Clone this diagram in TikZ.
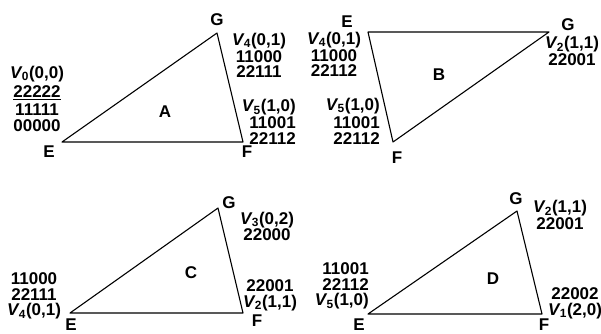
\documentclass[tikz,border=0pt]{standalone}
\usepackage{fontspec}
\setmainfont{Liberation Sans}
\usepackage{tikz}
\usetikzlibrary{positioning}
\newcommand{\Vs}[1]{\textit{V}\kern-0.6pt\textsubscript{#1}}
\tikzset{
  lbl/.style={anchor=base,inner sep=0pt,font=\fontsize{17}{15.5}\selectfont\bfseries},
  stack/.style={lbl,anchor=north,align=center},
  rstack/.style={lbl,anchor=north east,align=right},
  tri/.style={draw,line width=1.1pt,line join=round}
}
\begin{document}
\begin{tikzpicture}[x=1pt,y=-1pt]
 \useasboundingbox (0,0) rectangle (601,333);

 % triangle A
 \coordinate (aE) at (62,142);
 \coordinate (aF) at (243,142);
 \coordinate (aG) at (217,33);
 \draw[tri] (aE)--(aF)--(aG)--cycle;
 \node[lbl] (aGl) at (217,25) {G};
 \node[lbl] (aEl) at (49,157) {E};
 \node[lbl] (aFl) at (247,157) {F};
 \node[lbl] (aA)  at (165,117) {A};
 \node[stack] (aV0) at (37,65.8)
   {\Vs{0}(0,0)\\[4pt]\underline{22222}\\[2.5pt]11111\\00000};
 \node[stack] (aV4) at (259,32.8) {\Vs{4}(0,1)\\[1.5pt]11000\\22111};
 \node[rstack] (aV5) at (296,99.3) {\Vs{5}(1,0)\\[1.5pt]11001\\22112};

 % triangle B
 \coordinate (bE) at (368,32);
 \coordinate (bG) at (549,32);
 \coordinate (bF) at (393,142);
 \draw[tri] (bE)--(bG)--(bF)--cycle;
 \node[lbl] (bEl) at (347,27) {E};
 \node[lbl] (bGl) at (568,30) {G};
 \node[lbl] (bFl) at (397,163) {F};
 \node[lbl] (bB)  at (439,80) {B};
 \node[stack] (bV4) at (334,31.8) {\Vs{4}(0,1)\\[1.5pt]11000\\22112};
 \node[rstack] (bV5) at (380,97.8) {\Vs{5}(1,0)\\[3pt]11001\\22112};
 \node[stack] (bV2) at (572,36.3) {\Vs{2}(1,1)\\[1.5pt]22001};

 % triangle C
 \coordinate (cE) at (70,313);
 \coordinate (cF) at (243,313);
 \coordinate (cG) at (218,208);
 \draw[tri] (cE)--(cF)--(cG)--cycle;
 \node[lbl] (cGl) at (229,208) {G};
 \node[lbl] (cEl) at (71,330) {E};
 \node[lbl] (cFl) at (257,326) {F};
 \node[lbl] (cC)  at (191,278) {C};
 \node[stack] (cV3) at (267,211.8) {\Vs{3}(0,2)\\[1pt]22000};
 \node[stack] (cV2) at (270,279.8) {22001\\\Vs{2}(1,1)};
 \node[stack] (cV4) at (34,272.8) {11000\\22111\\\Vs{4}(0,1)};

 % triangle D
 \coordinate (dE) at (368,314);
 \coordinate (dF) at (542,314);
 \coordinate (dG) at (517,211);
 \draw[tri] (dE)--(dF)--(dG)--cycle;
 \node[lbl] (dGl) at (516,204) {G};
 \node[lbl] (dEl) at (359,330) {E};
 \node[lbl] (dFl) at (544,330) {F};
 \node[lbl] (dD)  at (493,284) {D};
 \node[stack] (dV2) at (560,200.3) {\Vs{2}(1,1)\\[1.5pt]22001};
 \node[stack] (dV1) at (575,287.8) {22002\\\Vs{1}(2,0)};
 \node[rstack] (dV5) at (369,262.8) {11001\\22112\\\Vs{5}(1,0)};
\end{tikzpicture}
\end{document}
